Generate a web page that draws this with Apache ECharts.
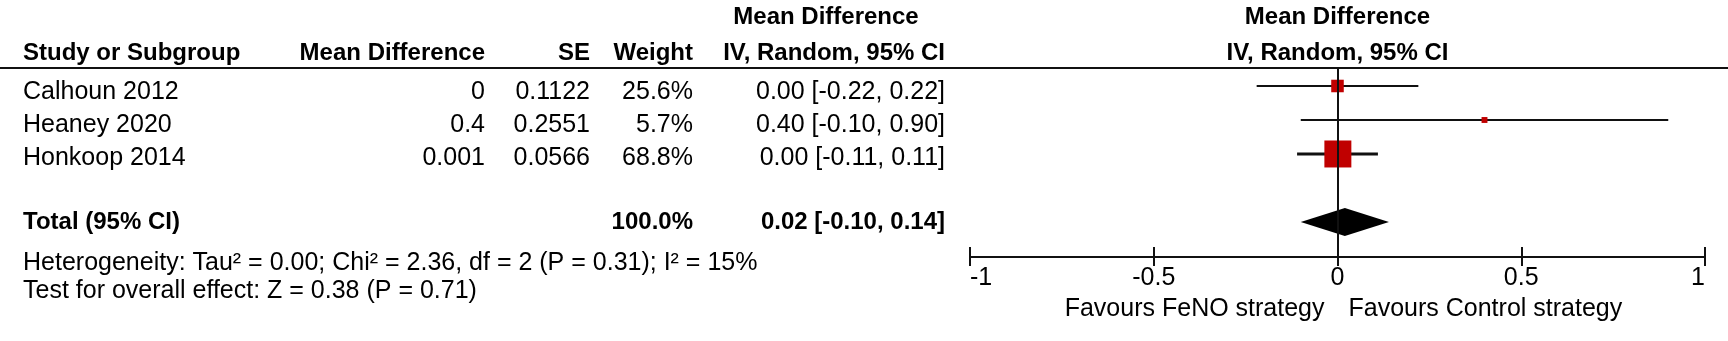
<!DOCTYPE html>
<html>
<head>
<meta charset="utf-8">
<script src="https://cdn.jsdelivr.net/npm/echarts@6/dist/echarts.min.js"></script>
<style>
  html, body { margin: 0; padding: 0; background: #ffffff; }
  #chart { width: 1728px; height: 341px; }
</style>
</head>
<body>
<div id="chart"></div>
<script>
// ---- Study data ----
const studies = ['Calhoun 2012', 'Heaney 2020', 'Honkoop 2014'];
const meanDiffs = [0, 0.4, 0.001];
const standardErrors = ['0.1122', '0.2551', '0.0566'];
const weights = [25.6, 5.7, 68.8];
const ciLower = [-0.22, -0.10, -0.11];
const ciUpper = [0.22, 0.90, 0.11];

// ---- Pooled estimate ----
const totalLabel = 'Total (95% CI)';
const totalWeight = 100.0;
const totalEstimate = 0.02;
const totalLower = -0.10;
const totalUpper = 0.14;

// ---- Axis and annotations ----
const axisTicks = [-1, -0.5, 0, 0.5, 1];
const heterogeneityText = 'Heterogeneity: Tau\u00B2 = 0.00; Chi\u00B2 = 2.36, df = 2 (P = 0.31); I\u00B2 = 15%';
const overallEffectText = 'Test for overall effect: Z = 0.38 (P = 0.71)';
const favoursLeft = 'Favours FeNO strategy';
const favoursRight = 'Favours Control strategy';
const columnHeaders = ['Study or Subgroup', 'Mean Difference', 'SE', 'Weight', 'IV, Random, 95% CI'];
const effectHeader = ['Mean Difference', 'IV, Random, 95% CI'];

// ---- Layout ----
const FONT = '"Liberation Sans", Arial, sans-serif';
const REG = '25px ' + FONT;
const BOLD = 'bold 24px ' + FONT;
const INK = '#111111';
const TOTAL_ROW = 4;           // pooled row sits two slots below the last study
const headerLineY = 68;
const rowTextY = [92, 125, 158];
const totalTextY = 222;
const col = { study: 23, md: 485, se: 590, weight: 693, ci: 945, ciCenter: 826 };

const fmt2 = v => v.toFixed(2);
const ciText = (e, l, u) => fmt2(e) + ' [' + fmt2(l) + ', ' + fmt2(u) + ']';

const chart = echarts.init(document.getElementById('chart'), null, { renderer: 'canvas' });

const studyData = studies.map((s, i) => [i, ciLower[i], ciUpper[i], meanDiffs[i], weights[i]]);
const pooledData = [[TOTAL_ROW, totalLower, totalUpper, totalEstimate]];

function txt(text, x, y, font, align) {
  return {
    type: 'text', silent: true,
    style: {
      text: text, x: x, y: y, font: font, fill: '#000000',
      align: align, verticalAlign: 'middle',
      textAlign: align, textVerticalAlign: 'middle'
    }
  };
}

const xAxisBase = {
  type: 'value', min: axisTicks[0], max: axisTicks[axisTicks.length - 1], interval: 0.5,
  gridIndex: 0, position: 'bottom', splitLine: { show: false }
};

chart.setOption({
  animation: false,
  backgroundColor: '#ffffff',
  grid: { left: 970, right: 23, top: headerLineY, bottom: 84, containLabel: false },
  xAxis: [
    Object.assign({}, xAxisBase, {
      axisLine: { show: true, onZero: false, lineStyle: { color: INK, width: 2 } },
      axisTick: { show: true, inside: true, length: 10, lineStyle: { color: INK, width: 2 } },
      axisLabel: {
        show: true, margin: 9, color: '#000000', fontSize: 25, fontFamily: FONT,
        showMinLabel: true, showMaxLabel: true,
        alignMinLabel: 'left', alignMaxLabel: 'right',
        formatter: v => String(v)
      }
    }),
    Object.assign({}, xAxisBase, {
      axisLine: { show: false, onZero: false },
      axisTick: { show: true, inside: false, length: 9, lineStyle: { color: INK, width: 2 } },
      axisLabel: { show: false }
    })
  ],
  yAxis: { type: 'value', inverse: true, min: -0.529, max: 5.03, show: false },
  series: [
    {
      type: 'custom',
      name: 'studies',
      data: studyData,
      encode: { x: [1, 2, 3], y: 0 },
      renderItem: function (params, api) {
        const row = api.value(0);
        const a = api.coord([api.value(1), row]);
        const b = api.coord([api.value(2), row]);
        const c = api.coord([api.value(3), row]);
        const size = 4 + 0.334 * api.value(4);
        return {
          type: 'group',
          children: [
            { type: 'line', shape: { x1: a[0], y1: a[1], x2: b[0], y2: b[1] },
              style: { stroke: INK, lineWidth: api.value(4) > 50 ? 3 : 2 } },
            { type: 'rect', shape: { x: c[0] - size / 2, y: c[1] - size / 2, width: size, height: size },
              style: { fill: '#c00000' } }
          ]
        };
      },
      markLine: {
        silent: true, symbol: 'none', label: { show: false },
        lineStyle: { color: INK, width: 2, type: 'solid' },
        data: [{ xAxis: 0 }]
      },
      z: 3
    },
    {
      type: 'custom',
      name: 'pooled',
      data: pooledData,
      encode: { x: [1, 2, 3], y: 0 },
      renderItem: function (params, api) {
        const row = api.value(0);
        const l = api.coord([api.value(1), row]);
        const r = api.coord([api.value(2), row]);
        const m = api.coord([api.value(3), row]);
        const h = 14;
        return {
          type: 'polygon',
          shape: { points: [[l[0], l[1]], [m[0], m[1] - h], [r[0], r[1]], [m[0], m[1] + h]] },
          style: { fill: '#000000' }
        };
      },
      z: 4
    }
  ]
});

// Table text and annotations, placed around the plot area
const zeroX = chart.convertToPixel({ xAxisIndex: 0 }, 0);
const elements = [];
elements.push({
  type: 'line', silent: true,
  shape: { x1: 0, y1: headerLineY, x2: 1728, y2: headerLineY },
  style: { stroke: INK, lineWidth: 2 }
});
// headers
elements.push(txt(effectHeader[0], col.ciCenter, 17, BOLD, 'center'));
elements.push(txt(effectHeader[0], zeroX, 17, BOLD, 'center'));
elements.push(txt(columnHeaders[0], col.study, 53, BOLD, 'left'));
elements.push(txt(columnHeaders[1], col.md, 53, BOLD, 'right'));
elements.push(txt(columnHeaders[2], col.se, 53, BOLD, 'right'));
elements.push(txt(columnHeaders[3], col.weight, 53, BOLD, 'right'));
elements.push(txt(columnHeaders[4], col.ci, 53, BOLD, 'right'));
elements.push(txt(effectHeader[1], zeroX, 53, BOLD, 'center'));
// study rows
studies.forEach((s, i) => {
  const y = rowTextY[i];
  elements.push(txt(s, col.study, y, REG, 'left'));
  elements.push(txt(String(meanDiffs[i]), col.md, y, REG, 'right'));
  elements.push(txt(standardErrors[i], col.se, y, REG, 'right'));
  elements.push(txt(weights[i].toFixed(1) + '%', col.weight, y, REG, 'right'));
  elements.push(txt(ciText(meanDiffs[i], ciLower[i], ciUpper[i]), col.ci, y, REG, 'right'));
});
// pooled row
elements.push(txt(totalLabel, col.study, totalTextY, BOLD, 'left'));
elements.push(txt(totalWeight.toFixed(1) + '%', col.weight, totalTextY, BOLD, 'right'));
elements.push(txt(ciText(totalEstimate, totalLower, totalUpper), col.ci, totalTextY, BOLD, 'right'));
// footnotes
elements.push(txt(heterogeneityText, col.study, 263, REG, 'left'));
elements.push(txt(overallEffectText, col.study, 291, REG, 'left'));
// direction labels
elements.push(txt(favoursLeft, zeroX - 13, 309, REG, 'right'));
elements.push(txt(favoursRight, zeroX + 11, 309, REG, 'left'));

chart.setOption({ graphic: { elements: elements } });
</script>
</body>
</html>
